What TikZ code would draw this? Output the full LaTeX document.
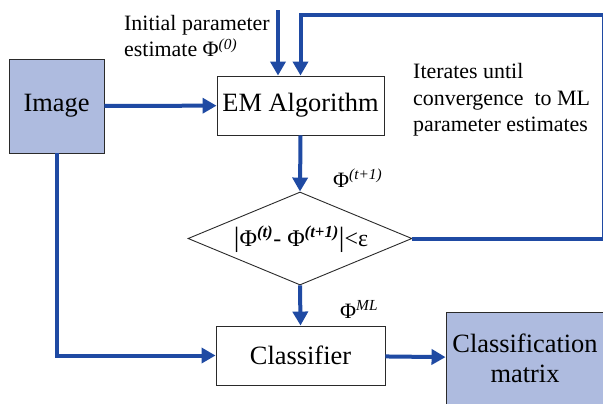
\documentclass[tikz,border=0pt]{standalone}
\usepackage{fontspec}
\setmainfont{LiberationSerif}[Extension=.ttf, UprightFont=*-Regular, ItalicFont=*-Italic, BoldFont=*-Bold, BoldItalicFont=*-BoldItalic]
\usetikzlibrary{arrows.meta,shapes.geometric}
\definecolor{flowblue}{HTML}{1F4AA3}
\definecolor{boxfill}{HTML}{AEBBDF}
\definecolor{boxline}{HTML}{2A2A2A}
\tikzset{
  arr/.style={draw=flowblue, line width=4bp, -{Triangle[length=14bp,width=15bp]}},
  procbox/.style={draw=boxline, line width=0.9bp, fill=white, inner sep=0pt,
     font=\fontsize{26.5}{29}\selectfont},
  databox/.style={draw=boxline, line width=0.9bp, fill=boxfill, inner sep=0pt, align=center,
     font=\fontsize{26.5}{30}\selectfont},
  note/.style={inner sep=0pt, align=left, font=\fontsize{22}{26.5}\selectfont},
  sym/.style={inner sep=0pt, font=\fontsize{22}{26}\selectfont},
}
\newcommand{\supit}[1]{\textsuperscript{\itshape #1}}
\begin{document}
\begin{tikzpicture}[x=1bp,y=-1bp]
\useasboundingbox (0,0) rectangle (603,403);
\clip (0,0) rectangle (603,403);
\fill[white] (0,0) rectangle (603,403);

% nodes
\node[databox, minimum width=95bp, minimum height=94bp] (img) at (56.5,106) {Image};
\node[procbox, minimum width=167bp, minimum height=59bp] (em) at (300.5,105.5) {EM Algorithm};
\node[draw=boxline, line width=0.9bp, fill=white, diamond, aspect=2.41, inner sep=0pt,
      minimum width=224bp, minimum height=93bp] (dia) at (300,238.5) {};
\node[sym, font=\fontsize{24}{28}\selectfont] (diatext) at (301,239) {{\fontsize{28}{28}\selectfont|}Φ\supit{\bfseries (t)}- Φ\supit{\bfseries (t+1)}{\fontsize{28}{28}\selectfont|}<ε};
\node[procbox, minimum width=169bp, minimum height=59bp] (cls) at (300.5,355.5) {Classifier};
\node[databox, minimum width=158bp, minimum height=92bp] (cm) at (525,358) {Classification\\matrix};

% text labels
\node[note, anchor=west] (init) at (124,36) {Initial parameter\\estimate Φ\supit{(0)}};
\node[note, anchor=west] (iter) at (413,100) {Iterates until\\convergence\ \ to ML\\parameter estimates};
\node[sym, anchor=base west] (phit1) at (333,187) {Φ\supit{(t+1)}};
\node[sym, anchor=base west] (phiml) at (340,318) {Φ\supit{ML}};

% coordinates
\coordinate (i0) at (278,10);
\coordinate (fbR) at (604,15);

% connectors
\draw[arr] (i0) -- (i0 |- em.north);
\draw[arr] (dia.east) -| (fbR) -| (em.north);
\draw[arr] (img) -- (em);
\draw[arr] (em.south) -- (dia.north);
\draw[arr] (dia.south) -- (cls.north);
\draw[arr] (img.south) |- (cls.west);
\draw[arr] (cls) -- (cm);
\end{tikzpicture}
\end{document}
